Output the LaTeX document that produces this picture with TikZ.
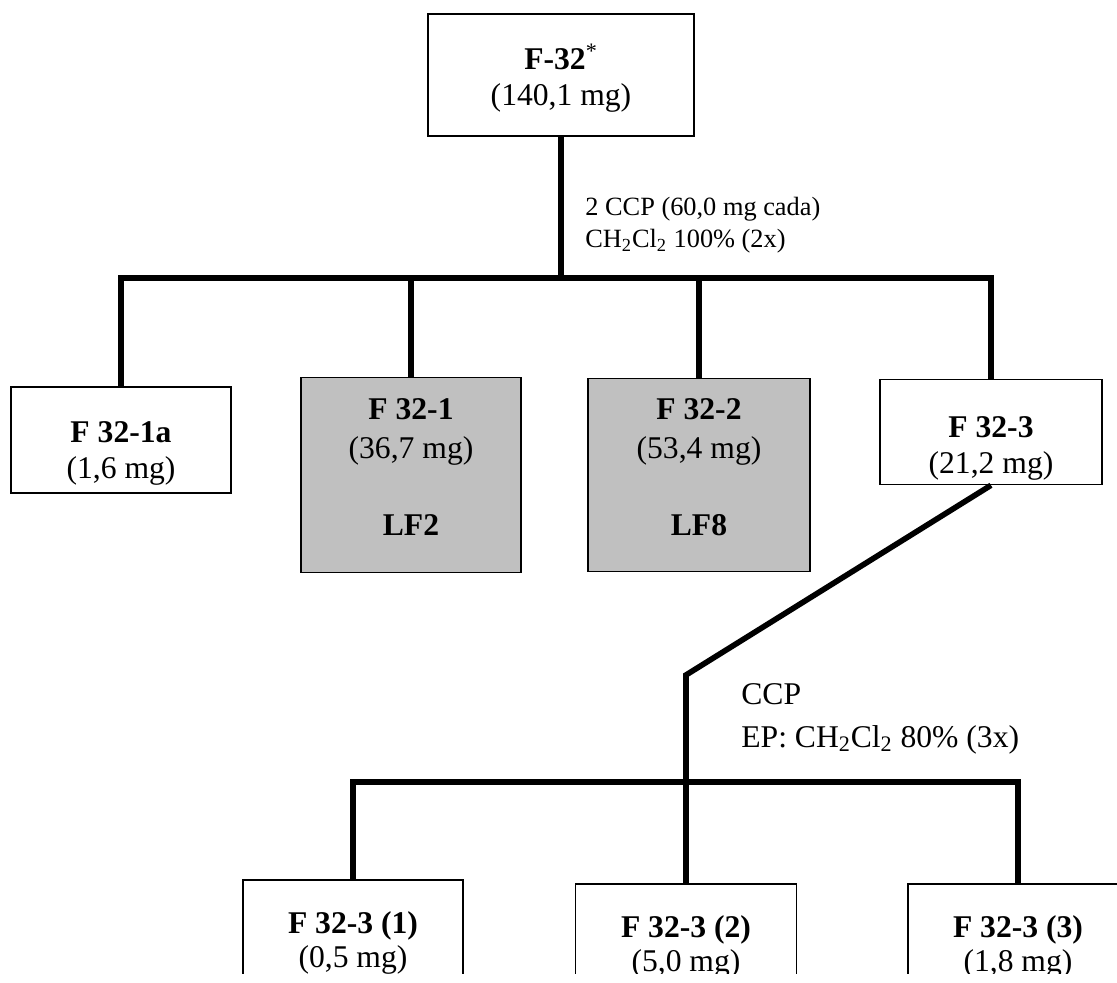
\documentclass[tikz,border=0pt]{standalone}
\usepackage{fontspec}
\setmainfont{Liberation Serif}
\usetikzlibrary{positioning,calc}

\definecolor{lfgray}{RGB}{192,192,192}

% pads that move a box text down or up
\newcommand{\padtop}[1]{\rule{0pt}{#1}}
\newcommand{\padbot}[1]{\rule[-#1]{0pt}{0pt}}

\tikzset{
    frac/.style={draw, line width=0.9pt, align=center, inner sep=0pt,
        minimum width=4.4cm, font=\fontsize{18}{20.5}\selectfont},
    lf/.style={frac, fill=lfgray, font=\fontsize{18}{22}\selectfont},
    cut/.style={frac, minimum height=2.52cm, font=\fontsize{18}{19.5}\selectfont},
    branch/.style={line width=3.2pt, line join=miter},
    sep/.style={align=left, inner sep=0pt, anchor=north west}
}

\begin{document}
\begin{tikzpicture}[x=0.02cm, y=-0.02cm]
    \useasboundingbox (0,0) rectangle (1117,983);

    % Starting fraction
    \node[frac, minimum width=5.32cm, minimum height=2.44cm] (f32) at (561,75)
        {\padtop{18.6pt}\textbf{F-32}\textsuperscript{*}\\(140,1 mg)};

    % First column
    \node[frac, minimum height=2.12cm] (f321a) at (121,440)
        {\padtop{27pt}\textbf{F 32-1a}\\(1,6 mg)};
    \node[lf, minimum height=3.9cm] (f321) at (411,475)
        {\textbf{F 32-1}\\(36,7 mg)\\[22pt]\textbf{LF2}\padbot{9pt}};
    \node[lf, minimum width=4.44cm, minimum height=3.86cm] (f322) at (699,475)
        {\textbf{F 32-2}\\(53,4 mg)\\[22pt]\textbf{LF8}\padbot{9pt}};
    \node[frac, minimum width=4.44cm, minimum height=2.1cm] (f323) at (991,432)
        {\padtop{30.4pt}\textbf{F 32-3}\\(21,2 mg)};

    \coordinate (bus1) at (561,278);
    \draw[branch] (f32) -- (bus1);
    \draw[branch] (f321a) |- (bus1) -| (f323);
    \draw[branch] (f321 |- bus1) -- (f321);
    \draw[branch] (f322 |- bus1) -- (f322);
    \node[sep, font=\fontsize{15}{18.2}\selectfont] (sep1) at (585,197)
        {2 CCP (60,0 mg cada)\\CH\textsubscript{2}Cl\textsubscript{2} 100\% (2x)};

    % Second column, cut at the page foot
    \begin{scope}
        \clip (0,0) rectangle (1117,973);
        \node[cut] (f3231) at (353,943)
            {\textbf{F 32-3 (1)}\\(0,5 mg)};
        \node[cut, minimum width=4.42cm] (f3232) at (686,947)
            {\textbf{F 32-3 (2)}\\(5,0 mg)};
        \node[cut] (f3233) at (1018,947)
            {\textbf{F 32-3 (3)}\\(1,8 mg)};
    \end{scope}

    \coordinate (kink) at (686,675);
    \coordinate (bus2) at (686,782);
    \draw[branch] (f323.south) -- (kink) -- (bus2);
    \draw[branch] (f3231) |- (bus2) -| (f3233);
    \draw[branch] (bus2) -- (f3232);
    \node[sep, font=\fontsize{18}{24.5}\selectfont] (sep2) at (741,683)
        {CCP\\EP: CH\textsubscript{2}Cl\textsubscript{2} 80\% (3x)};
\end{tikzpicture}
\end{document}
